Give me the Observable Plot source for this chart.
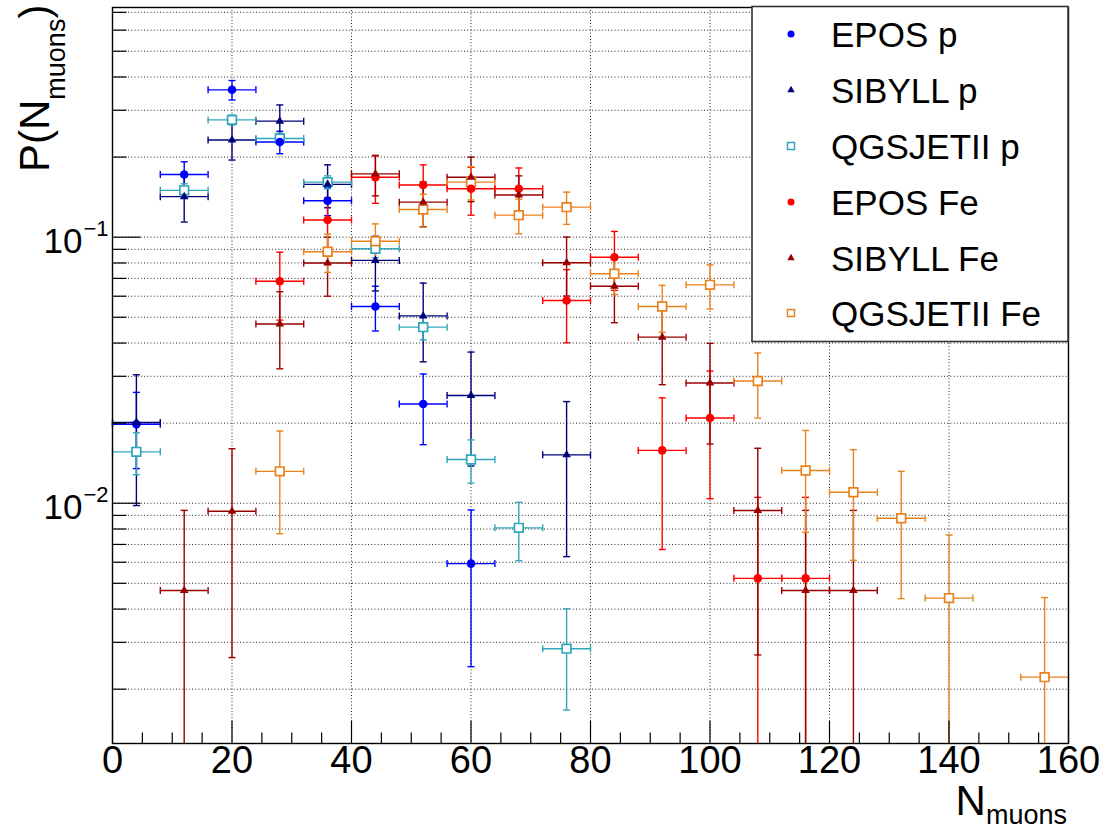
<!DOCTYPE html>
<html>
<head>
<meta charset="utf-8">
<script src="https://cdn.jsdelivr.net/npm/d3@7"></script>
<script src="https://cdn.jsdelivr.net/npm/@observablehq/plot@0.6"></script>
<style>
  html, body { margin: 0; padding: 0; background: #fff; }
  #chart { position: relative; width: 1105px; height: 832px; overflow: hidden; background: #fff; }
  #chart > svg { display: block; }
  #overlay { position: absolute; left: 0; top: 0; pointer-events: none; }
</style>
</head>
<body>
<div id="chart"></div>
<script>
const FONT = "'Liberation Sans', Arial, Helvetica, sans-serif";

// ---------------- data ----------------
const seriesNames = ["EPOS p", "SIBYLL p", "QGSJETII p", "EPOS Fe", "SIBYLL Fe", "QGSJETII Fe"];

const eposP_x = [4, 12, 20, 28, 36, 44, 52, 60];
const eposP_y = [0.0198, 0.172, 0.358, 0.228, 0.137, 0.0549, 0.0236, 0.00593];
const eposP_e = [0.0063, 0.020, 0.030, 0.022, 0.0165, 0.0105, 0.0070, 0.0035];

const sibyllP_x = [4, 12, 20, 28, 36, 44, 52, 60, 76];
const sibyllP_y = [0.0201, 0.142, 0.232, 0.273, 0.158, 0.0818, 0.0506, 0.0254, 0.0152];
const sibyllP_e = [0.0103, 0.028, 0.037, 0.041, 0.029, 0.019, 0.0166, 0.0116, 0.0089];

const qgsjetP_x = [4, 12, 20, 28, 36, 44, 52, 60, 68, 76];
const qgsjetP_y = [0.0156, 0.150, 0.276, 0.235, 0.161, 0.0905, 0.0459, 0.0146, 0.00808, 0.00284];
const qgsjetP_e = [0.0028, 0.0087, 0.0117, 0.0108, 0.0090, 0.0068, 0.0048, 0.0027, 0.0020, 0.00117];

const eposFe_x = [28, 36, 44, 52, 60, 68, 76, 84, 92, 100, 108, 116];
const eposFe_y = [0.0683, 0.116, 0.168, 0.157, 0.152, 0.152, 0.0578, 0.0841, 0.0158, 0.0209, 0.00522, 0.00522];
const eposFe_e = [0.0195, 0.025, 0.034, 0.030, 0.031, 0.030, 0.0177, 0.021, 0.0091, 0.0105, 0.0053, 0.0053];

const sibyllFe_x = [12, 20, 28, 36, 44, 52, 60, 68, 76, 84, 92, 100, 108, 116, 124];
const sibyllFe_y = [0.0047, 0.00933, 0.0472, 0.080, 0.173, 0.1354, 0.168, 0.144, 0.0801, 0.0654, 0.0421, 0.0283, 0.00939, 0.0047, 0.0047];
const sibyllFe_e = [0.0047, 0.0067, 0.0152, 0.020, 0.030, 0.026, 0.032, 0.026, 0.020, 0.0177, 0.0142, 0.0116, 0.0067, 0.0047, 0.0047];

const qgsjetFe_x = [28, 36, 44, 52, 60, 68, 76, 84, 92, 100, 108, 116, 124, 132, 140, 156];
const qgsjetFe_y = [0.01318, 0.0882, 0.0965, 0.127, 0.161, 0.121, 0.1297, 0.0729, 0.0549, 0.0662, 0.0288, 0.01327, 0.0110, 0.00878, 0.0044, 0.00222];
const qgsjetFe_e = [0.0055, 0.0145, 0.0157, 0.018, 0.023, 0.018, 0.018, 0.012, 0.011, 0.0125, 0.0079, 0.0055, 0.0049, 0.0044, 0.0032, 0.0022];

const halfBin = 4;

// axis values
const xDomain = [0, 160];
const yDomain = [0.00125, 0.73];
const xMajor = [0, 20, 40, 60, 80, 100, 120, 140, 160];
const xMinor = [5, 10, 15, 25, 30, 35, 45, 50, 55, 65, 70, 75, 85, 90, 95, 105, 110, 115, 125, 130, 135, 145, 150, 155];
const xGrid = [20, 40, 60, 80, 100, 120, 140];
const yMajor = [0.01, 0.1];
const yMinor = [0.002, 0.003, 0.004, 0.005, 0.006, 0.007, 0.008, 0.009,
                0.02, 0.03, 0.04, 0.05, 0.06, 0.07, 0.08, 0.09,
                0.2, 0.3, 0.4, 0.5, 0.6, 0.7];

// styles (kept apart from data)
const seriesColors = ["#0000ff", "#00007a", "#33a5bb", "#ff0000", "#990000", "#e8821e"];
const seriesMarkers = ["circle", "triangle", "square", "circle", "triangle", "square"];

const seriesData = [
  {xs: eposP_x, ys: eposP_y, es: eposP_e},
  {xs: sibyllP_x, ys: sibyllP_y, es: sibyllP_e},
  {xs: qgsjetP_x, ys: qgsjetP_y, es: qgsjetP_e},
  {xs: eposFe_x, ys: eposFe_y, es: eposFe_e},
  {xs: sibyllFe_x, ys: sibyllFe_y, es: sibyllFe_e},
  {xs: qgsjetFe_x, ys: qgsjetFe_y, es: qgsjetFe_e}
];

// ---------------- symbols ----------------
const tickUp = (len) => ({draw(ctx) { ctx.moveTo(0, 0); ctx.lineTo(0, -len); }});
const tickRight = (len) => ({draw(ctx) { ctx.moveTo(0, 0); ctx.lineTo(len, 0); }});
const capV = {draw(ctx) { ctx.moveTo(0, -3.5); ctx.lineTo(0, 3.5); }};
const capH = {draw(ctx) { ctx.moveTo(-3.5, 0); ctx.lineTo(3.5, 0); }};

// ---------------- marks ----------------
const marks = [];
const gridStyle = {stroke: "#000", strokeWidth: 1, strokeDasharray: "1,2.2", strokeOpacity: 0.85};
marks.push(Plot.ruleX(xGrid, {x: d => d, ...gridStyle}));
marks.push(Plot.ruleY(yMinor.concat(yMajor), {y: d => d, ...gridStyle}));

const allRows = seriesData.map((s) => s.xs.map((x, i) => {
  const v = s.ys[i], e = s.es[i];
  const lo = v - e;
  const clipped = lo <= yDomain[0];
  return {x, y: v, hi: v + e, lo: clipped ? yDomain[0] : lo, clipped};
}));

const LW = 1.4;
allRows.forEach((rows, k) => {
  const col = seriesColors[k];
  marks.push(Plot.ruleY(rows, {y: "y", x1: d => d.x - halfBin, x2: d => d.x + halfBin, stroke: col, strokeWidth: LW}));
  marks.push(Plot.ruleX(rows, {x: "x", y1: "lo", y2: "hi", stroke: col, strokeWidth: LW}));
  marks.push(Plot.dot(rows, {x: d => d.x - halfBin, y: "y", symbol: capV, stroke: col, fill: "none", strokeWidth: LW}));
  marks.push(Plot.dot(rows, {x: d => d.x + halfBin, y: "y", symbol: capV, stroke: col, fill: "none", strokeWidth: LW}));
  marks.push(Plot.dot(rows, {x: "x", y: "hi", symbol: capH, stroke: col, fill: "none", strokeWidth: LW}));
  marks.push(Plot.dot(rows.filter(r => !r.clipped), {x: "x", y: "lo", symbol: capH, stroke: col, fill: "none", strokeWidth: LW}));
});

// open squares first, then filled markers
allRows.forEach((rows, k) => {
  if (seriesMarkers[k] === "square")
    marks.push(Plot.dot(rows, {x: "x", y: "y", symbol: "square", r: 4.9, fill: "#fff", stroke: seriesColors[k], strokeWidth: 1.7}));
});
allRows.forEach((rows, k) => {
  if (seriesMarkers[k] === "circle")
    marks.push(Plot.dot(rows, {x: "x", y: "y", symbol: "circle", r: 4.3, fill: seriesColors[k], stroke: "none"}));
  if (seriesMarkers[k] === "triangle")
    marks.push(Plot.dot(rows, {x: "x", y: "y", symbol: "triangle", r: 3.2, fill: seriesColors[k], stroke: "none"}));
});

// frame and axes
marks.push(Plot.frame({stroke: "#000", strokeWidth: 1.4}));
marks.push(Plot.dot(xMajor, {x: d => d, frameAnchor: "bottom", symbol: tickUp(23), stroke: "#000", fill: "none", strokeWidth: 1.2}));
marks.push(Plot.dot(xMinor, {x: d => d, frameAnchor: "bottom", symbol: tickUp(11), stroke: "#000", fill: "none", strokeWidth: 1.2}));
marks.push(Plot.dot(yMajor, {y: d => d, frameAnchor: "left", symbol: tickRight(28), stroke: "#000", fill: "none", strokeWidth: 1.2}));
marks.push(Plot.dot(yMinor, {y: d => d, frameAnchor: "left", symbol: tickRight(14), stroke: "#000", fill: "none", strokeWidth: 1.2}));

marks.push(Plot.text(xMajor, {x: d => d, frameAnchor: "bottom", dy: 29, text: d => String(d),
  fontSize: 38, fontFamily: FONT, fill: "#000"}));
marks.push(Plot.text(yMajor, {y: d => d, frameAnchor: "left", dx: -30, dy: 5, textAnchor: "end", text: () => "10",
  fontSize: 35, fontFamily: FONT, fill: "#000"}));
marks.push(Plot.text(yMajor, {y: d => d, frameAnchor: "left", dx: -29, dy: -8, textAnchor: "start",
  text: d => "\u2212" + Math.round(-Math.log10(d)), fontSize: 22, fontFamily: FONT, fill: "#000"}));

const plot = Plot.plot({
  width: 1105,
  height: 832,
  marginLeft: 112,
  marginRight: 37,
  marginTop: 7,
  marginBottom: 89,
  style: {background: "#fff", fontFamily: FONT},
  x: {domain: xDomain, axis: null},
  y: {type: "log", domain: yDomain, axis: null},
  marks
});
const chart = document.getElementById("chart");
chart.appendChild(plot);

// ---------------- overlay: legend and axis titles ----------------
const ov = d3.create("svg").attr("id", "overlay").attr("width", 1105).attr("height", 832)
  .attr("font-family", FONT);

// legend
const lg = ov.append("g");
lg.append("rect").attr("x", 752).attr("y", 6.5).attr("width", 316).attr("height", 335)
  .attr("fill", "#fff").attr("stroke", "#333").attr("stroke-width", 1.6);
const rowY = [34, 90, 146, 202, 258, 313];
seriesNames.forEach((name, k) => {
  const cy = rowY[k];
  const col = seriesColors[k];
  const m = seriesMarkers[k];
  if (m === "circle") {
    lg.append("circle").attr("cx", 791).attr("cy", cy).attr("r", 3.5).attr("fill", col);
  } else if (m === "triangle") {
    lg.append("path").attr("transform", `translate(791,${cy})`)
      .attr("d", d3.symbol(d3.symbolTriangle, 24)()).attr("fill", col);
  } else {
    lg.append("rect").attr("x", 787.5).attr("y", cy - 3.5).attr("width", 7).attr("height", 7)
      .attr("fill", "#fff").attr("stroke", col).attr("stroke-width", 1.5);
  }
  lg.append("text").attr("x", 831).attr("y", cy + 12.5).attr("font-size", 35).attr("fill", "#000").text(name);
});

// y title
const yt = ov.append("text").attr("transform", "translate(49,172) rotate(-90)")
  .attr("font-size", 42).attr("fill", "#000");
yt.append("tspan").text("P(N");
yt.append("tspan").attr("font-size", 27).attr("dy", 16).text("muons");
yt.append("tspan").attr("dy", -16).text(")");

// x title
const xt = ov.append("text").attr("x", 1067).attr("y", 815).attr("text-anchor", "end")
  .attr("font-size", 42).attr("fill", "#000");
xt.append("tspan").text("N");
xt.append("tspan").attr("font-size", 27).attr("dy", 9).text("muons");

chart.appendChild(ov.node());
</script>
</body>
</html>
